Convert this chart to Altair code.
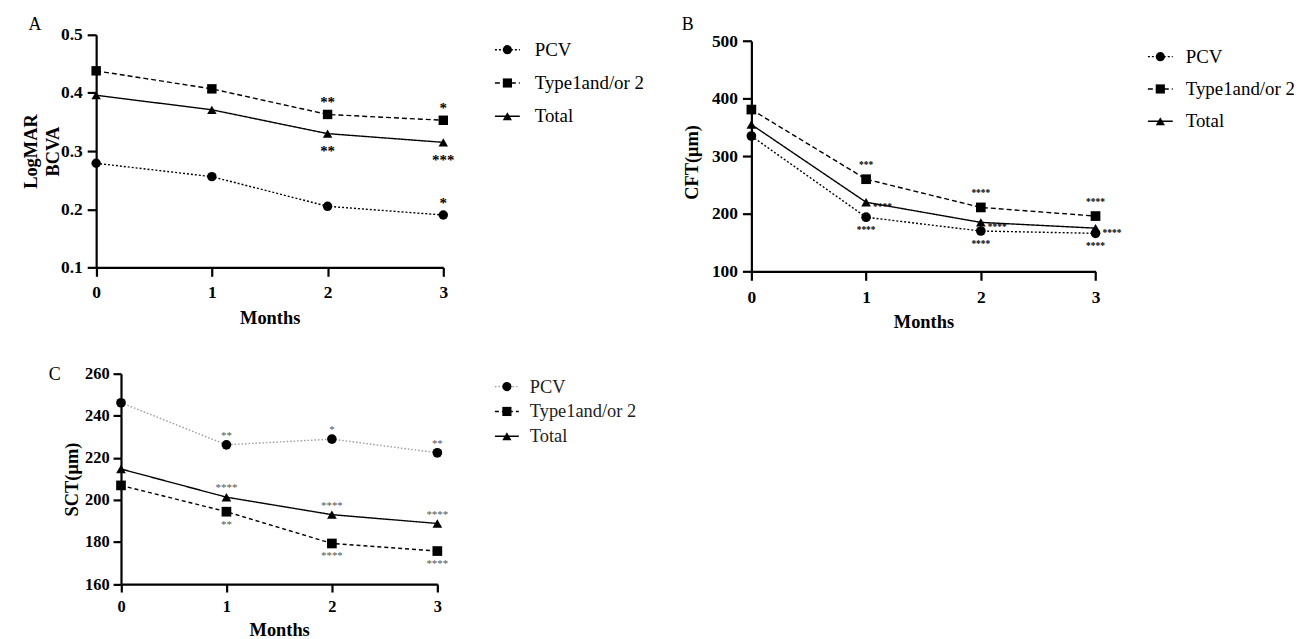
import altair as alt
import pandas as pd

# ---------------- data ----------------
months = [0, 1, 2, 3]
series = ["PCV", "Type1and/or 2", "Total"]

bcva_pcv = [0.279, 0.256, 0.205, 0.190]
bcva_type = [0.438, 0.407, 0.363, 0.353]
bcva_total = [0.396, 0.371, 0.330, 0.315]

cft_pcv = [335, 194, 170, 166]
cft_type = [381, 260, 211, 196]
cft_total = [355, 220, 185, 175]

sct_pcv = [246.2, 226.2, 228.9, 222.4]
sct_type = [206.9, 194.4, 179.3, 175.7]
sct_total = [214.7, 201.3, 193.0, 188.8]

# significance marks: series, month, text, placement
ann_a_series = ["Type1and/or 2", "Type1and/or 2", "Total", "Total", "PCV"]
ann_a_month = [2, 3, 2, 3, 3]
ann_a_text = ["**", "*", "**", "***", "*"]
ann_a_pos = ["above", "above", "below", "below", "above"]

ann_b_series = ["Type1and/or 2"] * 3 + ["Total"] * 3 + ["PCV"] * 3
ann_b_month = [1, 2, 3] * 3
ann_b_text = ["***", "****", "****", "****", "****", "****", "****", "****", "****"]
ann_b_pos = ["above"] * 3 + ["right"] * 3 + ["below"] * 3

ann_c_series = ["PCV"] * 3 + ["Total"] * 3 + ["Type1and/or 2"] * 3
ann_c_month = [1, 2, 3] * 3
ann_c_text = ["**", "*", "**", "****", "****", "****", "**", "****", "****"]
ann_c_pos = ["above"] * 3 + ["above"] * 3 + ["below"] * 3

SERIF = "Liberation Serif"
W, H = 1294, 631


def long_df(vals):
    rows = []
    for s, v in zip(series, vals):
        for m, val in zip(months, v):
            rows.append({"month": m, "series": s, "value": val})
    return pd.DataFrame(rows)


def ann_df(df, ser, mon, txt, pos):
    lookup = {(r.series, r.month): r.value for r in df.itertuples()}
    return pd.DataFrame({
        "series": ser, "month": mon, "text": txt, "pos": pos,
        "value": [lookup[(s, m)] for s, m in zip(ser, mon)],
    })


def panel(df, ann, xr, yr, ydom, yvals, yfmt, ytitle, ax, dashes, line_colors,
          star, msize):
    x = alt.X("month:Q",
              scale=alt.Scale(domain=[0, 3], range=xr, nice=False, zero=False),
              axis=alt.Axis(values=months, format="d", title="Months",
                            orient="bottom", offset=yr[0] - H,
                            domainColor="black", domainWidth=2.2,
                            tickColor="black", tickWidth=2.2, tickSize=ax["tick"],
                            labelFont=SERIF, labelFontSize=ax["lfs"],
                            labelFontWeight="bold", labelColor="black",
                            labelPadding=ax["xpad"], labelFlush=False,
                            grid=False, titleFont=SERIF, titleFontSize=18.5,
                            titleFontWeight="bold", titleColor="black",
                            titleY=ax["xtitleY"], titleBaseline="middle"))
    y = alt.Y("value:Q",
              scale=alt.Scale(domain=ydom, range=yr, nice=False, zero=False),
              axis=alt.Axis(values=yvals, format=yfmt, title=ytitle,
                            orient="left", offset=-xr[0],
                            domainColor="black", domainWidth=2.2,
                            tickColor="black", tickWidth=2.2, tickSize=ax["tick"],
                            labelFont=SERIF, labelFontSize=ax["lfs"],
                            labelFontWeight="bold", labelColor="black",
                            labelPadding=ax["ypad"], grid=False,
                            titleFont=SERIF, titleFontSize=18.5,
                            titleFontWeight="bold", titleColor="black",
                            titleX=ax["ytitleX"], titleY=ax["ytitleY"],
                            titleBaseline="middle", titleAlign="center",
                            titleLineHeight=22))
    base = alt.Chart(df)
    line = base.mark_line(strokeWidth=1.4).encode(
        x=x, y=y, detail="series:N",
        strokeDash=alt.StrokeDash("series:N", scale=alt.Scale(domain=series, range=dashes), legend=None),
        color=alt.Color("series:N", scale=alt.Scale(domain=series, range=line_colors), legend=None),
    )
    pts = base.mark_point(filled=True, opacity=1, color="black", size=msize).encode(
        x=x, y=y,
        shape=alt.Shape("series:N", scale=alt.Scale(domain=series, range=["circle", "square", "triangle-up"]), legend=None),
    )
    layers = [line, pts]
    for pos, (dx, dy, align) in star["offsets"].items():
        sub = ann[ann["pos"] == pos]
        if len(sub) == 0:
            continue
        layers.append(alt.Chart(sub).mark_text(
            dx=dx, dy=dy, align=align, baseline="alphabetic", font=SERIF,
            fontSize=star["size"], fontWeight=star["weight"], color=star["color"],
        ).encode(x=x, y=y, text="text:N"))
    return alt.layer(*layers)


def legend(yr, x0, x1, xt, fs, dashes, line_colors, text_color, msize):
    ldf = pd.DataFrame({"series": series})
    ly = alt.Y("series:N", sort=series,
               scale=alt.Scale(type="point", domain=series, range=yr, padding=0),
               axis=None)
    base = alt.Chart(ldf)
    rule = base.mark_rule(strokeWidth=1.4).encode(
        x=alt.value(x0), x2=alt.value(x1), y=ly,
        strokeDash=alt.StrokeDash("series:N", scale=alt.Scale(domain=series, range=dashes), legend=None),
        color=alt.Color("series:N", scale=alt.Scale(domain=series, range=line_colors), legend=None),
    )
    pts = base.mark_point(filled=True, opacity=1, color="black", size=msize).encode(
        x=alt.value((x0 + x1) / 2), y=ly,
        shape=alt.Shape("series:N", scale=alt.Scale(domain=series, range=["circle", "square", "triangle-up"]), legend=None),
    )
    txt = base.mark_text(align="left", baseline="middle", font=SERIF,
                         fontSize=fs, color=text_color).encode(
        x=alt.value(xt), y=ly, text="series:N")
    return alt.layer(rule, pts, txt)


def label(t, x, y):
    return alt.Chart(pd.DataFrame({"t": [t]})).mark_text(
        font=SERIF, fontSize=18, color="black", align="center", baseline="middle"
    ).encode(x=alt.value(x), y=alt.value(y), text="t:N")


df_a = long_df([bcva_pcv, bcva_type, bcva_total])
df_b = long_df([cft_pcv, cft_type, cft_total])
df_c = long_df([sct_pcv, sct_type, sct_total])

an_a = ann_df(df_a, ann_a_series, ann_a_month, ann_a_text, ann_a_pos)
an_b = ann_df(df_b, ann_b_series, ann_b_month, ann_b_text, ann_b_pos)
an_c = ann_df(df_c, ann_c_series, ann_c_month, ann_c_text, ann_c_pos)

dash_ab = [[2, 2], [5, 3], [1, 0]]
dash_c = [[1.5, 2], [4, 3], [1, 0]]
black3 = ["black", "black", "black"]
col_c = ["#9a9a9a", "black", "black"]

pa = panel(df_a, an_a, [88.7, 438], [259, 25], [0.1, 0.5],
           [0.1, 0.2, 0.3, 0.4, 0.5], ".1f", ["LogMAR", "BCVA"],
           dict(tick=9, lfs=17.5, xpad=7, ypad=5, xtitleY=51, ytitleX=-66, ytitleY=142),
           dash_ab, black3,
           dict(size=15, weight="bold", color="black",
                offsets={"above": (0, -7, "center"), "below": (0, 23, "center")}),
           90)
pb = panel(df_b, an_b, [748, 1094.3], [263, 31.3], [100, 500],
           [100, 200, 300, 400, 500], "d", "CFT(μm)",
           dict(tick=9, lfs=17.5, xpad=8, ypad=5, xtitleY=51, ytitleX=-60, ytitleY=153),
           dash_ab, black3,
           dict(size=9.5, weight="bold", color="black",
                offsets={"above": (0, -11, "center"), "below": (0, 16, "center"),
                         "right": (7, 8, "left")}),
           95)
pc = panel(df_c, an_c, [113.7, 432], [577.7, 366], [160, 260],
           [160, 180, 200, 220, 240, 260], "d", "SCT(μm)",
           dict(tick=8, lfs=16.5, xpad=7, ypad=4, xtitleY=46, ytitleX=-50, ytitleY=472),
           dash_c, col_c,
           dict(size=11, weight="normal", color="#555555",
                offsets={"above": (0, -6, "center"), "below": (0, 16, "center")}),
           95)

la = legend([40, 107], 490, 515, 530, 19, dash_ab, black3, "black", 85)
lb = legend([47, 112], 1147, 1172, 1185, 19, dash_ab, black3, "black", 85)
lc = legend([379, 429], 490, 514, 525, 18.5, dash_c, col_c, "#222222", 85)

chart = alt.layer(
    pa, pb, pc, la, lb, lc,
    label("A", 27, 15), label("B", 684, 15), label("C", 47, 367),
).resolve_scale(
    x="independent", y="independent", color="independent",
    shape="independent", strokeDash="independent",
).resolve_axis(x="independent", y="independent").properties(
    width=W, height=H, padding=0,
    autosize=alt.AutoSizeParams(type="none"),
).configure_view(stroke=None)

chart.save("out.html", embed_options={"renderer": "svg", "actions": False})
